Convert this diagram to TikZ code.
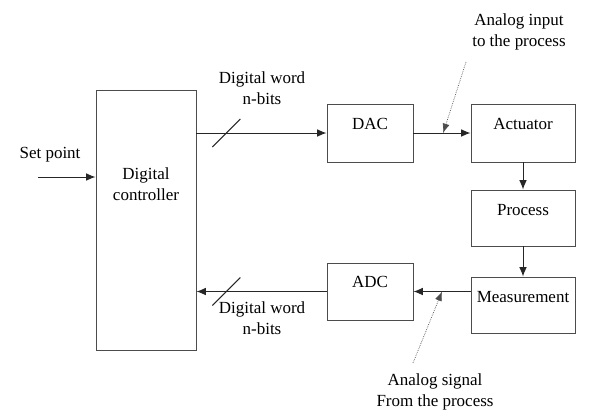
\documentclass[tikz,border=0pt]{standalone}
\usepackage{fontspec}
\setmainfont{Liberation Serif}
\newfontfamily\diagfont{Liberation Serif}
\usepackage{tikz}
\usetikzlibrary{arrows.meta,positioning}

\tikzset{
    blk/.style={draw=black!70, line width=0.8pt, minimum width=3.12cm, minimum height=1.68cm, inner sep=0pt},
    inlbl/.style={anchor=north, inner sep=0pt},
    sig/.style={draw=black!85, line width=0.8pt, -{Latex[length=8pt,width=6.5pt]}},
    note/.style={draw=black!70, line width=0.6pt, densely dotted, -{Latex[length=8pt,width=6pt]}},
    txt/.style={align=center, inner sep=0pt}
}

\begin{document}
\begin{tikzpicture}[x=0.03cm, y=-0.03cm, font=\diagfont\fontsize{14.5}{17.5}\selectfont]
    \useasboundingbox (0,0) rectangle (592,412);

    % blocks
    \node[blk, minimum width=3cm, minimum height=7.8cm,
        label={[inlbl, align=center, yshift=-2.35cm]north:Digital\\controller}] (ctrl) at (146,220) {};
    \node[blk, minimum width=2.58cm, minimum height=1.74cm,
        label={[inlbl, yshift=-0.44cm]north:DAC}] (dac) at (370,133) {};
    \node[blk, minimum height=1.74cm,
        label={[inlbl, yshift=-0.44cm]north:Actuator}] (act) at (523,133) {};
    \node[blk,
        label={[inlbl, yshift=-0.44cm]north:Process}] (proc) at (523,218) {};
    \node[blk,
        label={[inlbl, yshift=-0.44cm]north:Measurement}] (meas) at (523,305) {};
    \node[blk, minimum width=2.58cm, minimum height=1.71cm,
        label={[inlbl, yshift=-0.39cm]north:ADC}] (adc) at (370,291.5) {};

    % labels
    \node[txt] (sp) at (50,155) {Set point};
    \node[txt] (dwtop) at (262,88) {Digital word\\n-bits};
    \node[txt] (dwbot) at (262,318) {Digital word\\n-bits};
    \node[txt] (ain) at (519,32) {Analog input\\to the process};
    \node[txt] (asig) at (435,392) {Analog signal\\From the process};

    \coordinate (spin) at (38,177);
    \coordinate (t1) at (466,62);
    \coordinate (t2) at (413,363);

    % signal path
    \draw[sig] (spin) -- (ctrl.west |- spin);
    \draw[sig] (ctrl.east |- dac.west) -- coordinate[pos=0.23] (s1) (dac.west);
    \draw[sig] (dac.east) -- coordinate[pos=0.52] (a1) (act.west);
    \draw[sig] (act.south) -- (proc.north);
    \draw[sig] (proc.south) -- (meas.north);
    \draw[sig] (adc.east -| meas.west) -- coordinate[pos=0.5] (a2) (adc.east);
    \draw[sig] (adc.west) -- coordinate[pos=0.77] (s2) (ctrl.east |- adc.west);

    % n-bit slashes
    \draw[draw=black!85, line width=0.8pt] (s1) +(-14,14) -- +(14,-14);
    \draw[draw=black!85, line width=0.8pt] (s2) +(-14,14) -- +(14,-14);

    % pointers
    \draw[note] (t1) -- (a1);
    \draw[note] (t2) -- (a2);
\end{tikzpicture}
\end{document}
